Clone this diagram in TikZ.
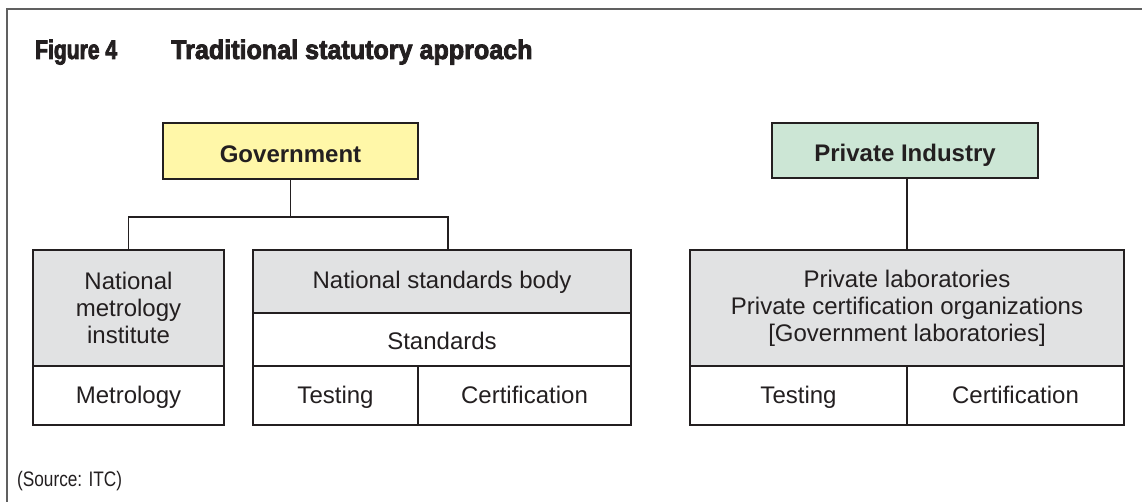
\documentclass[tikz,border=0pt]{standalone}
\usepackage{fontspec}
\setmainfont{Liberation Sans}
\newfontfamily\figfont[FakeStretch=0.78, BoldFeatures={FakeBold=3}]{Liberation Sans}
\newfontfamily\titlefont[FakeStretch=0.93, BoldFeatures={FakeBold=3}]{Liberation Sans}
\newfontfamily\condfont[FakeStretch=0.82]{Liberation Sans}
\usetikzlibrary{positioning}
\definecolor{govyellow}{HTML}{FFF7A8}
\definecolor{indgreen}{HTML}{CCE6D5}
\definecolor{boxgrey}{HTML}{E1E2E3}
\definecolor{ink}{HTML}{231F20}
\tikzset{
  box/.style     = {draw=ink, text=ink, line width=1.5pt, inner sep=0pt,
                    outer sep=0pt, align=center,
                    font=\fontsize{24}{27}\selectfont},
  oneline/.style = {text height=20pt, text depth=4pt},
  greybox/.style = {box, fill=boxgrey},
  headbox/.style = {box, text height=23pt, text depth=0pt,
                    font=\fontsize{24}{27}\selectfont\bfseries},
  link/.style    = {draw=ink, line width=1.5pt},
  caption/.style = {text=ink, inner sep=0pt, anchor=base west},
}
\begin{document}
\begin{tikzpicture}[x=1pt, y=-1pt]
  \useasboundingbox (0,0) rectangle (1142,502);
  \draw[gray!75!black, line width=1.5pt] (7,510) -- (7,9) -- (1150,9);

  % title and source
  \node[caption, font=\figfont\bfseries\fontsize{27}{30}\selectfont]   (fig) at (35,59) {Figure 4};
  \node[caption, font=\titlefont\bfseries\fontsize{27}{30}\selectfont] (ttl) at (171,59) {Traditional statutory approach};
  \node[caption, font=\condfont\fontsize{21}{23}\selectfont]           (src) at (17,486) {(Source: ITC)};

  % government side
  \node[headbox, fill=govyellow, minimum width=255pt, minimum height=56pt, anchor=north west] (gov) at (163,123) {Government};
  \node[greybox, minimum width=191pt, minimum height=116pt, anchor=north west] (nmi) at (33,250) {National\\metrology\\institute};
  \node[box, oneline, minimum width=191pt, minimum height=59pt, below=0pt of nmi] (metro) {Metrology};
  \node[greybox, oneline, text depth=6pt, minimum width=378pt, minimum height=63pt, anchor=north west] (nsb) at (253,250) {National standards body};
  \node[box, oneline, text depth=1pt, minimum width=378pt, minimum height=53pt, below=0pt of nsb] (std) {Standards};
  \node[box, oneline, minimum width=165pt, minimum height=59pt, below right=0pt and 0pt of std.south west] (test1) {Testing};
  \node[box, oneline, minimum width=213pt, minimum height=59pt, right=0pt of test1] (cert1) {Certification};

  % private side
  \node[headbox, fill=indgreen, minimum width=266pt, minimum height=55pt, anchor=north west] (priv) at (772,123) {Private Industry};
  \node[greybox, minimum width=434pt, minimum height=116pt, anchor=north west] (labs) at (690,250) {Private laboratories\\Private certification organizations\\{[Government laboratories]}};
  \node[box, oneline, minimum width=217pt, minimum height=59pt, below right=0pt and 0pt of labs.south west] (test2) {Testing};
  \node[box, oneline, minimum width=217pt, minimum height=59pt, right=0pt of test2] (cert2) {Certification};

  % connectors
  \draw[link] (gov.south) -- ++(0,38) coordinate (bus);
  \draw[link] (nmi.north) |- (bus) -| ([xshift=6pt]nsb.north);
  \draw[link] (labs.north) -- (labs.north |- priv.south);
\end{tikzpicture}
\end{document}
